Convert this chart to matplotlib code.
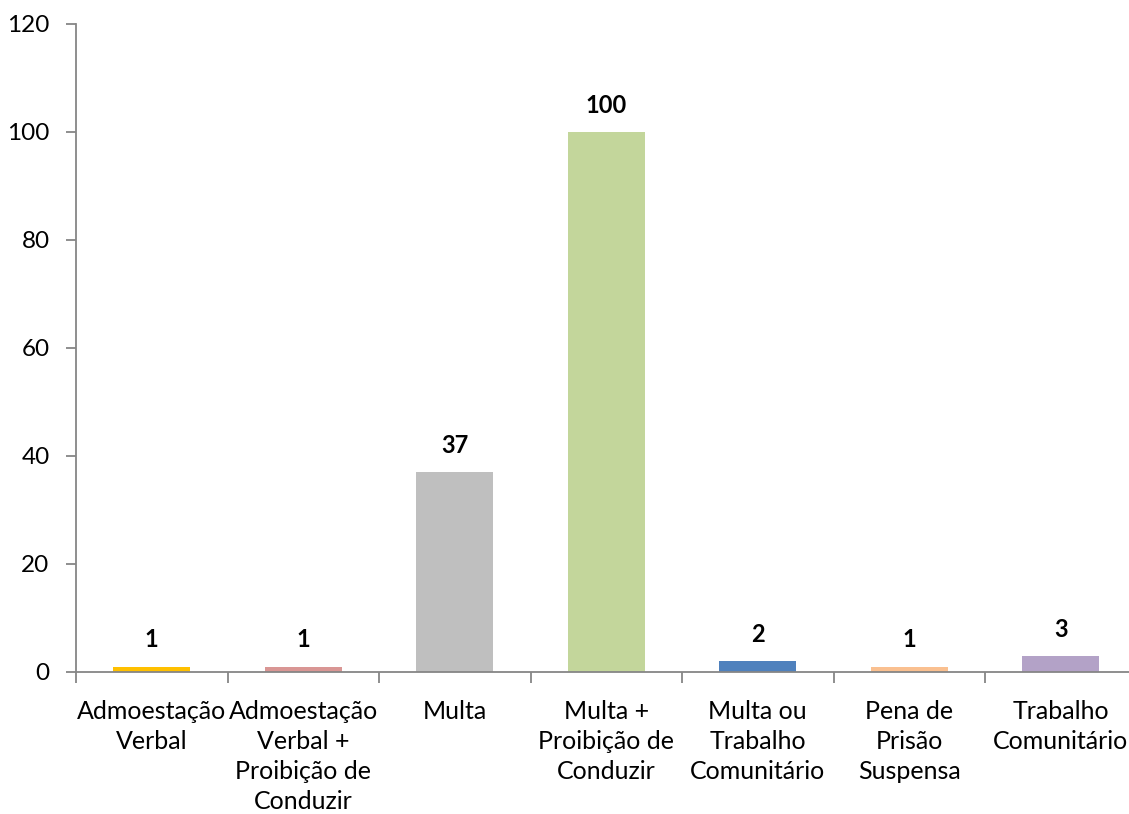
import matplotlib.pyplot as plt
import numpy as np

plt.rcParams["font.family"] = ["Lato", "DejaVu Sans"]

categories = [
    "Admoestação\nVerbal",
    "Admoestação\nVerbal +\nProibição de\nConduzir",
    "Multa",
    "Multa +\nProibição de\nConduzir",
    "Multa ou\nTrabalho\nComunitário",
    "Pena de\nPrisão\nSuspensa",
    "Trabalho\nComunitário",
]
values = [1, 1, 37, 100, 2, 1, 3]
colors = ["#FFC000", "#D99694", "#BFBFBF", "#C3D69B", "#4F81BD", "#FAC090", "#B3A2C7"]

W, H = 1129, 814
fig = plt.figure(figsize=(W / 100, H / 100), dpi=100)
fig.patch.set_facecolor("white")

left, right = 76 / W, 1136.5 / W
bottom, top = 1 - 672 / H, 1 - 24 / H
ax = fig.add_axes([left, bottom, right - left, top - bottom])

x = np.arange(len(categories))
ax.bar(x, values, width=0.51, color=colors, zorder=2)

for xi, v in zip(x, values):
    ax.text(xi, v + 2.8, str(v), ha="center", va="bottom",
            fontsize=17, fontweight="bold", color="black")

ax.set_xlim(-0.5, len(categories) - 0.5)
ax.set_ylim(0, 120)
ax.set_yticks(range(0, 121, 20))

# boundaries between categories get the tick marks, labels sit in the middle
ax.set_xticks(np.arange(-0.5, len(categories), 1.0))
ax.set_xticklabels([])
ax.set_xticks(x, minor=True)
ax.set_xticklabels(categories, minor=True, fontsize=18, linespacing=1.38)
ax.tick_params(axis="x", which="minor", length=0, pad=20)
ax.tick_params(axis="x", which="major", length=8, width=1.3, color="#868686", direction="out")
ax.tick_params(axis="y", length=7, width=1.3, color="#868686", labelsize=17.5, pad=12)

for side in ["top", "right"]:
    ax.spines[side].set_visible(False)
for side in ["left", "bottom"]:
    ax.spines[side].set_color("#868686")
    ax.spines[side].set_linewidth(1.3)

fig.savefig("out.png", dpi=100, facecolor="white")
